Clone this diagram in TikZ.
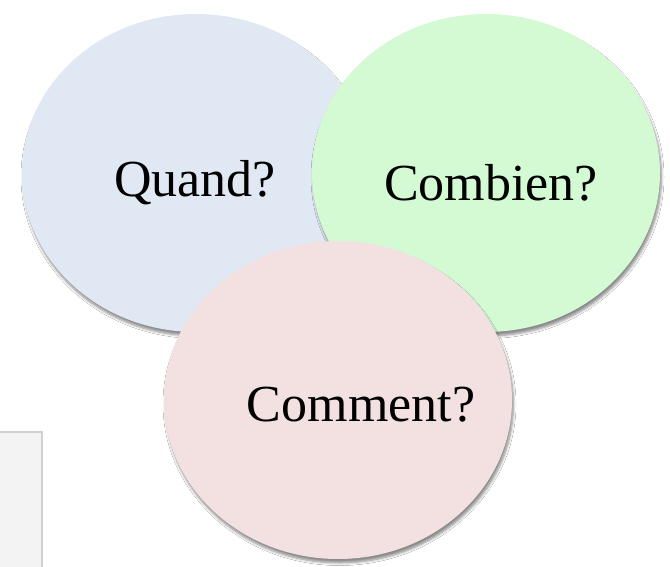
\documentclass[tikz,border=0pt]{standalone}
\usepackage{fontspec}
\setmainfont{Liberation Serif}
\usetikzlibrary{shadows.blur,shapes.geometric}
\definecolor{cblue}{HTML}{E0E8F3}
\definecolor{cgreen}{HTML}{D4FAD4}
\definecolor{cpink}{HTML}{F3E1E1}
\definecolor{boxfill}{HTML}{F3F3F3}
\definecolor{boxline}{HTML}{D0D0D0}
\begin{document}
\begin{tikzpicture}[x=1pt,y=-1pt,
  bubble/.style={ellipse, minimum width=348pt, minimum height=318pt, inner sep=0pt,
     blur shadow={shadow xshift=1.5pt, shadow yshift=-4pt, shadow blur steps=6, shadow blur radius=2.5pt, shadow opacity=45}},
  label/.style={font=\fontsize{52}{60}\selectfont, inner sep=0pt}
  ]
\useasboundingbox (0,0) rectangle (670,567);
\fill[white] (0,0) rectangle (670,567);
\draw[boxline, fill=boxfill, line width=1.2pt] (-2,432) rectangle (42,570);
\node[bubble, fill=cblue] (q) at (196,173) {};
\node[bubble, fill=cgreen] (c) at (486,173) {};
\node[bubble, fill=cpink] (m) at (338,400) {};
\node[label] (tq) at (195,183) {Quand?};
\node[label] (tc) at (491,183) {Combien?};
\node[label] (tm) at (361,405) {Comment?};
\end{tikzpicture}
\end{document}
